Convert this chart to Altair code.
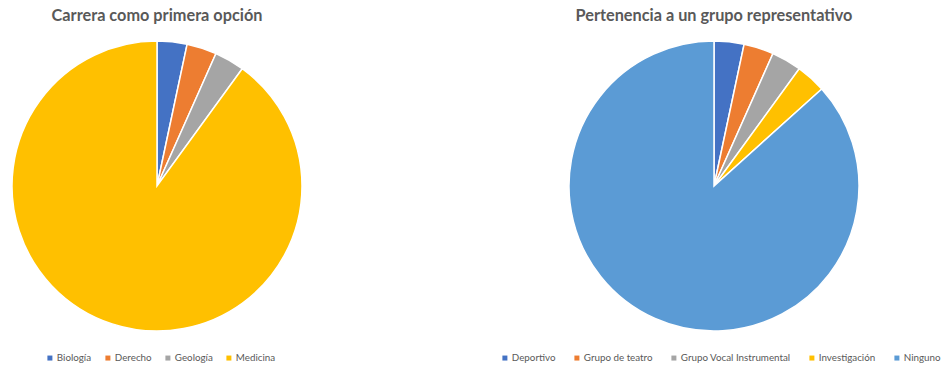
import altair as alt
import pandas as pd

carreras = ["Biología", "Derecho", "Geología", "Medicina"]
carreras_n = [1, 1, 1, 27]
carreras_colors = ["#4472C4", "#ED7D31", "#A5A5A5", "#FFC000"]

grupos = ["Deportivo", "Grupo de teatro", "Grupo Vocal Instrumental", "Investigación", "Ninguno"]
grupos_n = [1, 1, 1, 1, 26]
grupos_colors = ["#4472C4", "#ED7D31", "#A5A5A5", "#FFC000", "#5B9BD5"]

df1 = pd.DataFrame({"cat": carreras, "n": carreras_n, "i": range(len(carreras))})
df2 = pd.DataFrame({"cat": grupos, "n": grupos_n, "i": range(len(grupos))})

FONT = "Lato"

def pie(df, cats, colors, title, w, lx, cp):
    return (
        alt.Chart(df, title=alt.Title(title, anchor="middle", fontSize=16.3, font=FONT,
                                      fontWeight="bold", color="#595959", offset=12))
        .mark_arc(outerRadius=145, stroke="white", strokeWidth=1.5)
        .encode(
            theta=alt.Theta("n:Q", stack=True),
            order=alt.Order("i:Q"),
            color=alt.Color(
                "cat:N",
                scale=alt.Scale(domain=cats, range=colors),
                legend=alt.Legend(
                    title=None, orient="none", legendX=lx, legendY=317,
                    direction="horizontal", columns=len(cats),
                    symbolType="square", symbolSize=25, symbolStrokeWidth=0,
                    labelFont=FONT, labelFontSize=9.8, labelColor="#595959",
                    columnPadding=cp, symbolOffset=0, labelOffset=2,
                ),
            ),
        )
        .properties(width=w, height=300)
    )

left = pie(df1, carreras, carreras_colors, "Carrera como primera opción", 314, 45, 11)
right = pie(df2, grupos, grupos_colors, "Pertenencia a un grupo representativo", 454, 13, 16)

chart = (
    alt.hconcat(left, right, spacing=173)
    .resolve_scale(color="independent")
    .resolve_legend(color="independent")
    .configure_view(stroke=None)
    .properties(padding={"top": 7, "left": 0, "right": 0, "bottom": 0}, background="white")
)

chart.save("out.html", embed_options={"renderer": "svg", "actions": False})
